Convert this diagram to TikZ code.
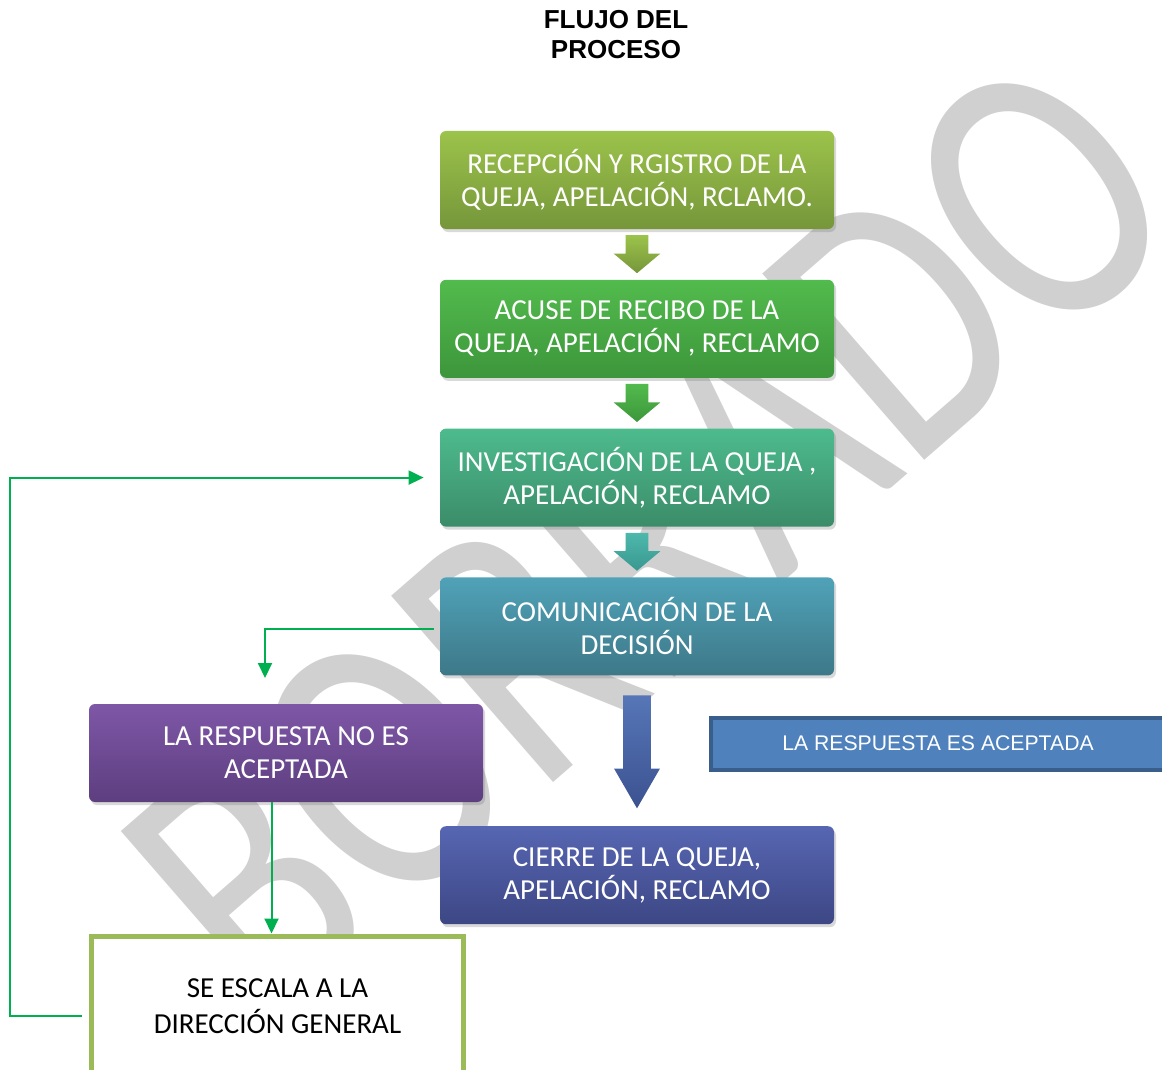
\documentclass[tikz,border=0pt]{standalone}
\usepackage{fontspec}
\setmainfont{Carlito}
\newfontfamily\arialfont{Liberation Sans}
\usepackage{xcolor}
\usepackage{tikz}
\usetikzlibrary{shapes.arrows, arrows.meta, positioning, calc, shadows}

\definecolor{olivoA}{HTML}{9CC34B}
\definecolor{olivoB}{HTML}{76963A}
\definecolor{verdeA}{HTML}{52BB4D}
\definecolor{verdeB}{HTML}{3D963B}
\definecolor{jadeA}{HTML}{4DBB8D}
\definecolor{jadeB}{HTML}{3B8C69}
\definecolor{petroA}{HTML}{50A2B8}
\definecolor{petroB}{HTML}{3D7888}
\definecolor{indigoA}{HTML}{5766B2}
\definecolor{indigoB}{HTML}{3D4785}
\definecolor{moradoA}{HTML}{7E57A7}
\definecolor{moradoB}{HTML}{5D3E7F}
\definecolor{tealA}{HTML}{4DB8AC}
\definecolor{tealB}{HTML}{3A9890}
\definecolor{azulA}{HTML}{5676B7}
\definecolor{azulB}{HTML}{3C5290}
\definecolor{acepFondo}{HTML}{4F81BD}
\definecolor{acepBorde}{HTML}{3A5E8C}
\definecolor{linea}{HTML}{00B050}
\definecolor{bordeEsc}{HTML}{9BBB59}
\definecolor{marca}{HTML}{D0D0D0}

\begin{document}
\begin{tikzpicture}[
    x=0.5pt, y=-0.5pt,
    every node/.style={font=\fontsize{14.5}{16.5}\selectfont},
    paso/.style={rectangle, rounded corners=3pt, minimum width=197pt, minimum height=49pt,
        align=center, text=white,
        drop shadow={shadow xshift=1pt, shadow yshift=-1.5pt, opacity=0.3}},
    flecha/.style={single arrow, shape border rotate=270, inner sep=5.5pt, yshift=2.5pt,
        single arrow head extend=6pt, single arrow tip angle=100, minimum height=19pt},
    conn/.style={draw=linea, line width=1pt, -{Triangle[length=7.5pt, width=7pt]}},
]

\useasboundingbox (0,0) rectangle (1162,1070);
\clip (0,0) rectangle (1162,1070);

% marca de agua
\node[text=marca, font=\fontsize{148}{148}\selectfont, rotate=41, yscale=1.3, transform shape]
    (borrador) at (650,535) {BORRADO};

% titulo
\node[font=\arialfont\bfseries\fontsize{13}{15}\selectfont, align=center] (titulo) at (616,35)
    {FLUJO DEL\\PROCESO};

% columna principal
\node[paso, top color=olivoA, bottom color=olivoB] (recep) at (637,180)
    {RECEPCIÓN Y RGISTRO DE LA\\QUEJA, APELACIÓN, RCLAMO.};
\node[paso, top color=verdeA, bottom color=verdeB, below=25pt of recep] (acuse)
    {ACUSE DE RECIBO DE LA\\QUEJA, APELACIÓN , RECLAMO};
\node[paso, top color=jadeA, bottom color=jadeB, below=25pt of acuse] (invest)
    {INVESTIGACIÓN DE LA QUEJA ,\\APELACIÓN, RECLAMO};
\node[paso, top color=petroA, bottom color=petroB, below=25pt of invest] (comun)
    {COMUNICACIÓN DE LA\\DECISIÓN};
\node[paso, top color=indigoA, bottom color=indigoB, below=75pt of comun] (cierre)
    {CIERRE DE LA QUEJA,\\APELACIÓN, RECLAMO};

% flechas de bloque
\node[flecha, top color=olivoA, bottom color=olivoB] (f1) at ($(recep.south)!0.5!(acuse.north)$) {};
\node[flecha, top color=verdeA, bottom color=verdeB] (f2) at ($(acuse.south)!0.5!(invest.north)$) {};
\node[flecha, top color=tealA, bottom color=tealB] (f3) at ($(invest.south)!0.5!(comun.north)$) {};
\node[flecha, top color=azulA, bottom color=azulB, inner sep=6.75pt, single arrow head extend=4.5pt,
    single arrow tip angle=60, minimum height=56.5pt, yshift=3pt] (f4) at ($(comun.south)!0.5!(cierre.north)$) {};

% ramas
\node[paso, top color=moradoA, bottom color=moradoB] (noacep) at (286,753)
    {LA RESPUESTA NO ES\\ACEPTADA};
\node[draw=acepBorde, line width=2pt, fill=acepFondo, text=white, minimum width=227pt,
    minimum height=26pt, font=\arialfont\fontsize{10.6}{12}\selectfont] (acep) at (938,743.5)
    {LA RESPUESTA ES ACEPTADA};
\node[draw=bordeEsc, line width=2.5pt, fill=white, minimum width=186pt, minimum height=70pt,
    align=center, font=\fontsize{14.5}{18}\selectfont] (escala) at (277.5,1006)
    {SE ESCALA A LA\\DIRECCIÓN GENERAL};

% conectores
\coordinate (c1) at (265,678);
\draw[conn] ([xshift=-3pt,yshift=-1.5pt]comun.west) -| (c1);
\draw[conn] ([xshift=-3pt]escala.north |- noacep.south) -- ([xshift=-3pt]escala.north);
\draw[conn] ([xshift=-3.5pt,yshift=-5pt]escala.west) -- ++(-36pt,0) |- ([xshift=-8pt]invest.west);

\end{tikzpicture}
\end{document}
